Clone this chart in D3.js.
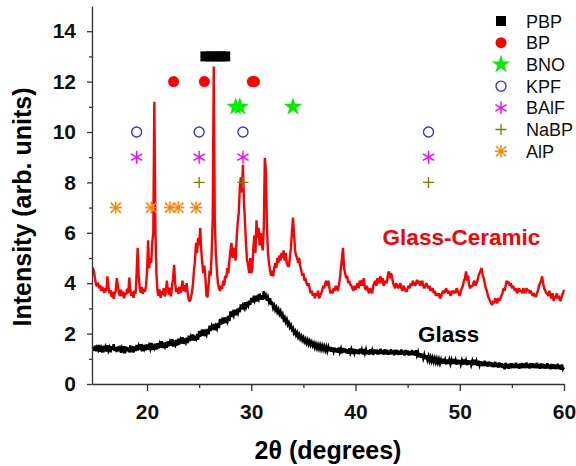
<!DOCTYPE html>
<html>
<head>
<meta charset="utf-8">
<script src="https://cdn.jsdelivr.net/npm/d3@7"></script>
<style>
  body { margin: 0; background: #fff; }
  svg { display: block; font-family: "Liberation Sans", Arial, sans-serif; }
</style>
</head>
<body>
<svg id="chart"></svg>
<script>
// scan settings (2theta, degrees)
var scanStart = 14.8;
var scanStep = 0.1;

// Glass-Ceramic pattern, one value per step
var glassCeramic = [
  4.62, 4.48,
  4.20, 3.95, 3.88, 4.02, 3.80, 3.92, 3.70, 3.86, 3.74, 3.62,
  3.80, 3.68, 4.27, 3.85, 3.60, 3.72, 3.45, 3.66, 3.38, 3.58,
  3.70, 4.20, 3.90, 3.62, 3.50, 3.74, 3.48, 3.66, 3.40, 3.62,
  3.55, 3.78, 3.60, 4.22, 3.72, 3.50, 3.65, 3.42, 3.70, 3.58,
  4.40, 5.40, 4.30, 3.80, 3.62, 3.85, 3.58, 3.78, 3.66, 3.90,
  4.40, 5.70, 4.60, 5.00, 4.80, 5.60, 6.00, 11.20, 6.20, 4.40,
  3.70, 3.50, 3.75, 3.42, 3.68, 3.55, 3.80, 3.48, 3.62, 4.10,
  3.70, 3.55, 3.82, 3.48, 3.90, 4.20, 4.73, 4.00, 3.65, 3.80,
  3.58, 3.86, 3.62, 3.75, 4.10, 3.70, 3.92, 3.66, 4.00, 3.60,
  3.35, 3.28, 3.40, 3.62, 3.95, 4.50, 4.90, 5.60, 5.20, 5.80,
  5.50, 6.20, 5.30, 4.80, 4.40, 4.70, 4.20, 3.50, 3.45, 3.90,
  4.50, 4.30, 5.20, 6.60, 12.60, 6.50, 5.20, 4.50, 4.00, 3.80,
  3.70, 3.90, 3.78, 4.10, 3.90, 4.30, 4.20, 4.60, 4.40, 4.90,
  5.30, 5.60, 5.00, 5.40, 5.20, 4.90, 5.80, 6.40, 6.80, 7.80,
  8.20, 7.60, 8.70, 7.20, 6.40, 5.50, 4.90, 4.70, 4.40, 5.00,
  4.40, 4.60, 5.40, 5.90, 5.20, 6.50, 5.80, 6.20, 5.50, 6.00,
  5.60, 5.30, 6.20, 8.97, 8.50, 6.30, 5.20, 4.80, 4.50, 4.30,
  4.50, 4.27, 4.60, 4.80, 4.60, 5.00, 4.80, 5.10, 4.90, 5.20,
  5.00, 5.30, 4.90, 5.20, 4.80, 4.70, 4.66, 5.00, 5.40, 6.00,
  6.60, 6.00, 5.30, 5.10, 5.00, 4.80, 5.00, 4.66, 4.50, 4.30,
  4.40, 4.10, 4.20, 4.00, 3.90, 4.00, 3.80, 3.60, 3.70, 3.50,
  3.60, 3.40, 3.60, 3.50, 3.70, 3.40, 3.50, 3.60, 3.70, 3.90,
  3.80, 4.00, 4.10, 3.90, 4.10, 3.80, 3.60, 3.70, 3.60, 3.80,
  3.70, 3.90, 3.80, 3.70, 3.90, 4.20, 4.60, 5.00, 5.40, 4.60,
  4.40, 4.20, 4.30, 4.00, 4.10, 3.94, 3.90, 3.80, 3.70, 3.90,
  3.74, 3.90, 4.00, 3.80, 4.10, 3.90, 4.13, 3.90, 4.20, 3.80,
  3.74, 3.90, 3.70, 3.60, 3.80, 3.70, 3.60, 3.90, 4.00, 4.10,
  3.90, 4.20, 4.00, 4.10, 4.27, 4.00, 4.20, 3.90, 4.00, 4.10,
  4.00, 4.30, 4.47, 4.20, 4.40, 4.27, 4.00, 3.90, 3.80, 4.00,
  3.90, 3.80, 3.90, 4.00, 3.80, 3.70, 3.90, 3.80, 3.70, 3.67,
  3.80, 3.90, 3.80, 4.00, 3.90, 4.10, 4.00, 3.90, 4.00, 4.13,
  4.00, 4.10, 3.90, 4.00, 4.10, 3.90, 3.80, 3.90, 4.00, 3.90,
  3.80, 3.90, 3.70, 3.74, 3.80, 3.60, 3.70, 3.50, 3.60, 3.50,
  3.60, 3.40, 3.47, 3.60, 3.70, 3.60, 3.70, 3.80, 3.67, 3.60,
  3.70, 3.50, 3.60, 3.70, 3.60, 3.70, 3.60, 3.80, 3.70, 3.60,
  3.50, 3.70, 3.80, 3.90, 4.10, 4.20, 4.47, 4.10, 4.30, 3.90,
  3.80, 3.90, 3.87, 4.00, 4.10, 3.90, 4.00, 4.10, 4.30, 4.40,
  4.50, 4.60, 4.30, 4.20, 4.00, 3.80, 3.70, 3.50, 3.40, 3.30,
  3.20, 3.14, 3.30, 3.20, 3.40, 3.30, 3.20, 3.40, 3.30, 3.40,
  3.50, 3.60, 3.80, 3.70, 3.90, 4.10, 4.00, 4.06, 3.90, 4.00,
  3.80, 3.90, 3.80, 3.70, 3.80, 3.60, 3.70, 3.80, 3.67, 3.70,
  3.60, 3.80, 3.70, 3.60, 3.80, 3.70, 3.74, 3.60, 3.70, 3.60,
  3.50, 3.60, 3.50, 3.47, 3.60, 3.70, 3.90, 4.00, 4.10, 4.27,
  4.00, 3.80, 3.70, 3.60, 3.60, 3.50, 3.70, 3.50, 3.40, 3.60,
  3.30, 3.50, 3.40, 3.60, 3.40, 3.50, 3.30, 3.34, 3.50, 3.60,
  3.74
];

// Glass pattern, one value per step
var glass = [
  1.48, 1.32,
  1.52, 1.30, 1.45, 1.36, 1.55, 1.28, 1.42, 1.25, 1.51, 1.37,
  1.47, 1.29, 1.54, 1.33, 1.44, 1.26, 1.50, 1.35, 1.58, 1.31,
  1.46, 1.27, 1.49, 1.30, 1.52, 1.24, 1.43, 1.33, 1.50, 1.22,
  1.48, 1.30, 1.45, 1.26, 1.53, 1.34, 1.41, 1.25, 1.49, 1.31,
  1.55, 1.33, 1.50, 1.36, 1.58, 1.30, 1.47, 1.38, 1.56, 1.34,
  1.57, 1.36, 1.52, 1.40, 1.63, 1.35, 1.50, 1.42, 1.60, 1.37,
  1.62, 1.41, 1.58, 1.45, 1.70, 1.43, 1.55, 1.47, 1.66, 1.44,
  1.70, 1.50, 1.66, 1.52, 1.78, 1.49, 1.63, 1.55, 1.75, 1.53,
  1.80, 1.57, 1.74, 1.61, 1.86, 1.59, 1.72, 1.64, 1.84, 1.62,
  1.92, 1.70, 1.86, 1.73, 1.97, 1.72, 1.84, 1.78, 1.98, 1.76,
  2.10, 1.88, 2.04, 1.92, 2.16, 1.90, 2.06, 1.96, 2.18, 1.97,
  2.32, 2.10, 2.28, 2.15, 2.38, 2.14, 2.30, 2.20, 2.42, 2.22,
  2.58, 2.36, 2.52, 2.40, 2.64, 2.42, 2.56, 2.47, 2.70, 2.50,
  2.88, 2.66, 2.82, 2.72, 2.95, 2.73, 2.88, 2.80, 3.02, 2.85,
  3.16, 2.96, 3.12, 3.02, 3.24, 3.05, 3.18, 3.10, 3.30, 3.14,
  3.42, 3.24, 3.40, 3.30, 3.50, 3.28, 3.44, 3.36, 3.58, 3.35,
  3.52, 3.34, 3.68, 3.38, 3.50, 3.30, 3.44, 3.26, 3.40, 3.20,
  3.22, 3.02, 3.12, 2.94, 3.04, 2.86, 2.96, 2.78, 2.88, 2.70,
  2.78, 2.56, 2.64, 2.46, 2.56, 2.36, 2.44, 2.26, 2.34, 2.16,
  2.22, 2.02, 2.10, 1.94, 2.04, 1.86, 1.96, 1.80, 1.90, 1.74,
  1.84, 1.68, 1.78, 1.62, 1.74, 1.58, 1.70, 1.55, 1.66, 1.52,
  1.62, 1.45, 1.58, 1.42, 1.55, 1.40, 1.54, 1.38, 1.52, 1.37,
  1.50, 1.34, 1.48, 1.31, 1.46, 1.30, 1.47, 1.28, 1.45, 1.29,
  1.44, 1.26, 1.42, 1.24, 1.45, 1.27, 1.40, 1.22, 1.43, 1.25,
  1.41, 1.22, 1.38, 1.20, 1.42, 1.24, 1.37, 1.19, 1.40, 1.23,
  1.38, 1.20, 1.36, 1.18, 1.40, 1.21, 1.35, 1.17, 1.39, 1.22,
  1.36, 1.18, 1.34, 1.16, 1.38, 1.19, 1.33, 1.15, 1.37, 1.20,
  1.37, 1.17, 1.35, 1.18, 1.40, 1.19, 1.34, 1.16, 1.38, 1.18,
  1.36, 1.16, 1.33, 1.17, 1.38, 1.18, 1.33, 1.14, 1.36, 1.17,
  1.35, 1.15, 1.32, 1.16, 1.37, 1.17, 1.32, 1.13, 1.35, 1.16,
  1.33, 1.13, 1.30, 1.14, 1.35, 1.15, 1.31, 1.12, 1.34, 1.14,
  1.26, 1.06, 1.22, 1.04, 1.20, 1.02, 1.16, 0.98, 1.14, 0.96,
  1.10, 0.92, 1.06, 0.90, 1.04, 0.88, 1.02, 0.86, 1.00, 0.84,
  0.98, 0.82, 0.96, 0.80, 1.00, 0.81, 0.95, 0.78, 0.97, 0.80,
  0.96, 0.80, 0.95, 0.79, 0.99, 0.80, 0.94, 0.77, 0.96, 0.79,
  0.95, 0.78, 0.93, 0.77, 0.97, 0.78, 0.92, 0.75, 0.94, 0.77,
  0.93, 0.76, 0.91, 0.75, 0.96, 0.76, 0.90, 0.73, 0.92, 0.75,
  0.90, 0.72, 0.88, 0.71, 0.92, 0.72, 0.87, 0.69, 0.89, 0.71,
  0.86, 0.68, 0.84, 0.67, 0.88, 0.68, 0.83, 0.65, 0.85, 0.67,
  0.82, 0.64, 0.80, 0.58, 0.84, 0.63, 0.79, 0.61, 0.81, 0.63,
  0.82, 0.64, 0.80, 0.63, 0.84, 0.64, 0.79, 0.61, 0.81, 0.63,
  0.83, 0.64, 0.81, 0.63, 0.85, 0.64, 0.80, 0.62, 0.82, 0.64,
  0.82, 0.64, 0.80, 0.63, 0.84, 0.63, 0.79, 0.61, 0.81, 0.63,
  0.80, 0.62, 0.78, 0.61, 0.82, 0.62, 0.77, 0.59, 0.79, 0.61,
  0.78, 0.60, 0.76, 0.59, 0.80, 0.60, 0.75, 0.57, 0.77, 0.59,
  0.66
];

// phase markers: peak positions (2theta) and the row they sit on
var phaseNames = ["PBP", "BP", "BNO", "KPF", "BAlF", "NaBP", "AlP"];
var phaseRows = [13, 12, 11, 10, 9, 8, 7];
var pbpPeaks = [25.6, 26.1, 26.6, 27.1, 27.5];
var bpPeaks = [22.55, 25.5, 30.1, 30.3];
var bnoPeaks = [28.5, 28.9, 34.0];
var kpfPeaks = [19.0, 25.0, 29.2, 47.0];
var balfPeaks = [19.0, 25.0, 29.2, 47.0];
var nabpPeaks = [25.0, 29.2, 47.0];
var alpPeaks = [17.0, 20.4, 22.2, 23.0, 24.7];

var xTicks = [20, 30, 40, 50, 60];
var xMinorTicks = [25, 35, 45, 55];
var yTicks = [0, 2, 4, 6, 8, 10, 12, 14];
var yMinorTicks = [1, 3, 5, 7, 9, 11, 13];

var width = 576, height = 466;
var margin = { top: 6, right: 12, bottom: 82, left: 92 };
var w = width - margin.left - margin.right;
var h = height - margin.top - margin.bottom;

var svg = d3.select("#chart")
    .attr("width", width)
    .attr("height", height);
var g = svg.append("g")
    .attr("transform", "translate(" + margin.left + "," + margin.top + ")");

var x = d3.scaleLinear().domain([14.72, 60]).range([0, w]);
var y = d3.scaleLinear().domain([0, 15]).range([h, 0]);

function toPoints(values) {
    return values.map(function (v, i) {
        return { t: scanStart + i * scanStep, v: v };
    });
}

var line = d3.line()
    .x(function (d) { return x(d.t); })
    .y(function (d) { return y(d.v); });

// patterns
g.append("path")
    .datum(toPoints(glass))
    .attr("d", line)
    .attr("fill", "none")
    .attr("stroke", "#000")
    .attr("stroke-width", 2.5);
g.append("path")
    .datum(toPoints(glassCeramic))
    .attr("d", line)
    .attr("fill", "none")
    .attr("stroke", "#ff0000")
    .attr("stroke-width", 2.4)
    .attr("stroke-linejoin", "bevel");

// axes
var axisColor = "#333";
g.append("g")
    .attr("transform", "translate(0," + h + ")")
    .call(d3.axisBottom(x).tickValues(xTicks).tickSize(7).tickPadding(13).tickSizeOuter(0));
g.append("g")
    .attr("transform", "translate(0," + h + ")")
    .call(d3.axisBottom(x).tickValues(xMinorTicks).tickSize(4).tickFormat("").tickSizeOuter(0))
    .select(".domain").remove();
g.append("g")
    .call(d3.axisLeft(y).tickValues(yTicks).tickSize(5).tickPadding(11).tickSizeOuter(0));
g.append("g")
    .call(d3.axisLeft(y).tickValues(yMinorTicks).tickSize(3).tickFormat("").tickSizeOuter(0))
    .select(".domain").remove();

g.selectAll(".domain, .tick line")
    .attr("stroke", axisColor)
    .attr("stroke-width", 1.3);
g.selectAll(".tick text")
    .attr("fill", "#111")
    .style("font-size", "21px")
    .style("font-weight", "bold");

// axis titles
svg.append("text")
    .attr("x", 328)
    .attr("y", 459)
    .attr("text-anchor", "middle")
    .style("font-size", "25px")
    .style("font-weight", "bold")
    .text("2θ (degrees)");
svg.append("text")
    .attr("transform", "translate(31,207) rotate(-90)")
    .attr("text-anchor", "middle")
    .style("font-size", "25px")
    .style("font-weight", "bold")
    .text("Intensity (arb. units)");

// trace labels
g.append("text")
    .attr("x", x(42.6))
    .attr("y", y(5.52))
    .attr("fill", "#ff0000")
    .style("font-size", "22.5px")
    .style("font-weight", "bold")
    .text("Glass-Ceramic");
g.append("text")
    .attr("x", x(46.0))
    .attr("y", y(1.68))
    .attr("fill", "#000")
    .style("font-size", "22.5px")
    .style("font-weight", "bold")
    .text("Glass");

// marker drawing
function drawSymbol(sel, kind) {
    if (kind === "PBP") {
        sel.append("rect").attr("x", -5).attr("y", -5).attr("width", 10).attr("height", 10)
            .attr("fill", "#000");
    } else if (kind === "BP") {
        sel.append("circle").attr("r", 5.5).attr("fill", "#ff0000");
    } else if (kind === "BNO") {
        sel.append("path").attr("d", d3.symbol().type(d3.symbolStar).size(105)())
            .attr("fill", "#00ee00");
    } else if (kind === "KPF") {
        sel.append("circle").attr("r", 5).attr("fill", "none")
            .attr("stroke", "#3333ff").attr("stroke-width", 1.4);
    } else if (kind === "BAlF") {
        sel.append("path")
            .attr("d", "M0,-6.5V6.5M-5.6,-3.25L5.6,3.25M-5.6,3.25L5.6,-3.25")
            .attr("stroke", "#ff00ff").attr("stroke-width", 1.4).attr("fill", "none");
    } else if (kind === "NaBP") {
        sel.append("path")
            .attr("d", "M0,-5.5V5.5M-5.5,0H5.5")
            .attr("stroke", "#808000").attr("stroke-width", 1.4).attr("fill", "none");
    } else if (kind === "AlP") {
        sel.append("path")
            .attr("d", "M-5,-5L5,5M-5,5L5,-5M-6,0H6M0,-6V6")
            .attr("stroke", "#ff8000").attr("stroke-width", 1.5).attr("fill", "none");
        sel.append("rect").attr("x", -2.5).attr("y", -2.5).attr("width", 5).attr("height", 5)
            .attr("fill", "none").attr("stroke", "#ffb060").attr("stroke-width", 1);
    }
}

var peakSets = [pbpPeaks, bpPeaks, bnoPeaks, kpfPeaks, balfPeaks, nabpPeaks, alpPeaks];
peakSets.forEach(function (peaks, k) {
    g.selectAll("g.mk" + k)
        .data(peaks)
        .enter()
        .append("g")
        .attr("class", "mk" + k)
        .attr("transform", function (d) {
            return "translate(" + x(d) + "," + y(phaseRows[k]) + ")";
        })
        .each(function () { drawSymbol(d3.select(this), phaseNames[k]); });
});

// legend
var legend = svg.append("g").attr("transform", "translate(501,21)");
phaseNames.forEach(function (name, i) {
    var row = legend.append("g").attr("transform", "translate(0," + (i * 21.7) + ")");
    drawSymbol(row, name);
    row.append("text")
        .attr("x", 25)
        .attr("y", 6.5)
        .style("font-size", "18px")
        .attr("fill", "#111")
        .text(name);
});
</script>
</body>
</html>
